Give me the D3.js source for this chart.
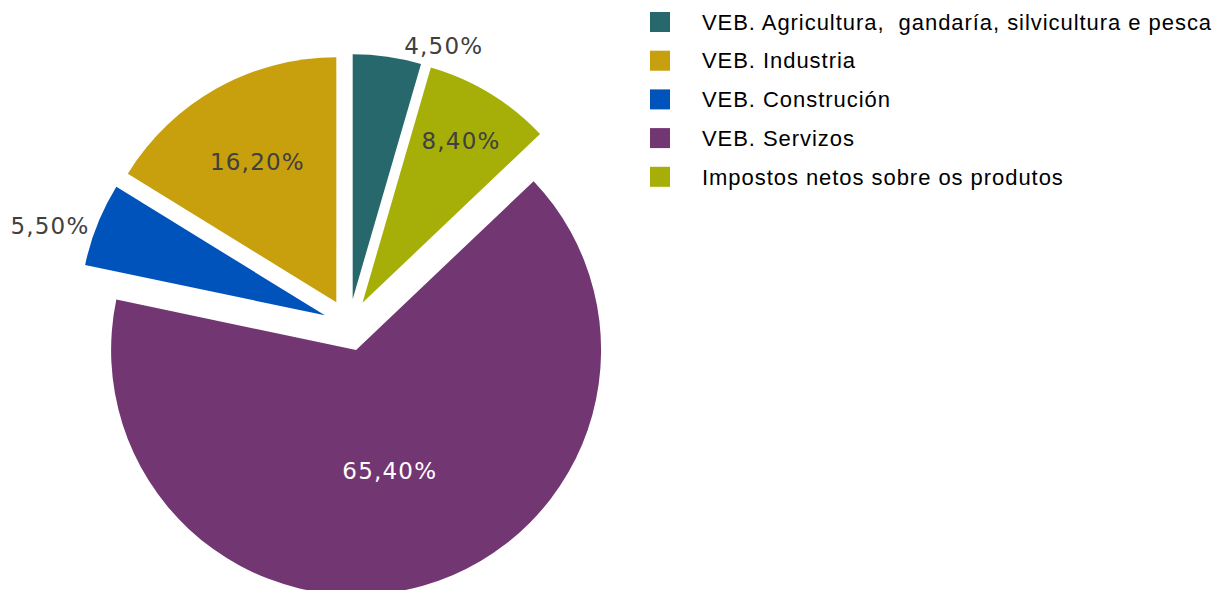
<!DOCTYPE html>
<meta charset="utf-8">
<style>
body { margin: 0; background: #fff; }
.legend text { font-family: "Liberation Sans", Arial, sans-serif; font-size: 22px; letter-spacing: 0.95px; fill: #000; white-space: pre; }
.labels text { font-family: "DejaVu Sans", Verdana, sans-serif; font-size: 23px; letter-spacing: 1.2px; text-anchor: middle; }
</style>
<svg width="1217" height="590"></svg>
<script src="https://cdn.jsdelivr.net/npm/d3@7/dist/d3.min.js"></script>
<script>

// data, in legend order
var categories = ["VEB. Agricultura,  gandaría, silvicultura e pesca", "VEB. Industria", "VEB. Construción", "VEB. Servizos", "Impostos netos sobre os produtos"];
var values = [4.5, 16.2, 5.5, 65.4, 8.4];
var colors = ["#26686C", "#C89F0C", "#0053BA", "#723672", "#A5AF08"];
// clockwise order of the slices from 12 o'clock
var sliceOrder = [0, 4, 3, 2, 1];

// label placement: radius from the slice tip and shift from the bisector (deg)
var labelRadius = [269, 161, 289, 125, 190];
var labelShift = [11.7, -0.2, -3.8, 0.2, -0.1];
var labelFill = ["#404040", "#404040", "#404040", "#ffffff", "#404040"];

var svg = d3.select("svg"),
    cx = 349, cy = 325,
    radius = 245,
    explode = 26;

var data = categories.map(function(c, i) {
  return { name: c, value: values[i], color: colors[i], index: i };
});

var pie = d3.pie()
    .value(function(d) { return d.value; })
    .sort(function(a, b) { return sliceOrder.indexOf(a.index) - sliceOrder.indexOf(b.index); });

var arc = d3.arc().innerRadius(0).outerRadius(radius);

var arcs = pie(data);

function offset(d) {
  var a = (d.startAngle + d.endAngle) / 2;
  return [explode * Math.sin(a), -explode * Math.cos(a)];
}

var g = svg.append("g").attr("transform", "translate(" + cx + "," + cy + ")");

g.selectAll("path")
    .data(arcs)
    .enter().append("path")
    .attr("d", arc)
    .attr("fill", function(d) { return d.data.color; })
    .attr("transform", function(d) { var o = offset(d); return "translate(" + o[0] + "," + o[1] + ")"; });

var fmt = d3.format(".2f");

g.append("g")
    .attr("class", "labels")
    .selectAll("text")
    .data(arcs)
    .enter().append("text")
    .attr("x", function(d) {
      var o = offset(d), i = d.data.index;
      var a = (d.startAngle + d.endAngle) / 2 + labelShift[i] * Math.PI / 180;
      return o[0] + labelRadius[i] * Math.sin(a);
    })
    .attr("y", function(d) {
      var o = offset(d), i = d.data.index;
      var a = (d.startAngle + d.endAngle) / 2 + labelShift[i] * Math.PI / 180;
      return o[1] - labelRadius[i] * Math.cos(a);
    })
    .attr("dy", "0.36em")
    .attr("fill", function(d) { return labelFill[d.data.index]; })
    .text(function(d) { return fmt(d.data.value).replace(".", ",") + "%"; });

// legend
var legend = svg.append("g")
    .attr("class", "legend")
    .attr("transform", "translate(650,12)")
    .selectAll("g")
    .data(data)
    .enter().append("g")
    .attr("transform", function(d, i) { return "translate(0," + (i * 38.7) + ")"; });

legend.append("rect")
    .attr("width", 20)
    .attr("height", 20)
    .attr("fill", function(d) { return d.color; });

legend.append("text")
    .attr("x", 52)
    .attr("y", 10)
    .attr("dy", "0.35em")
    .text(function(d) { return d.name; });

</script>
